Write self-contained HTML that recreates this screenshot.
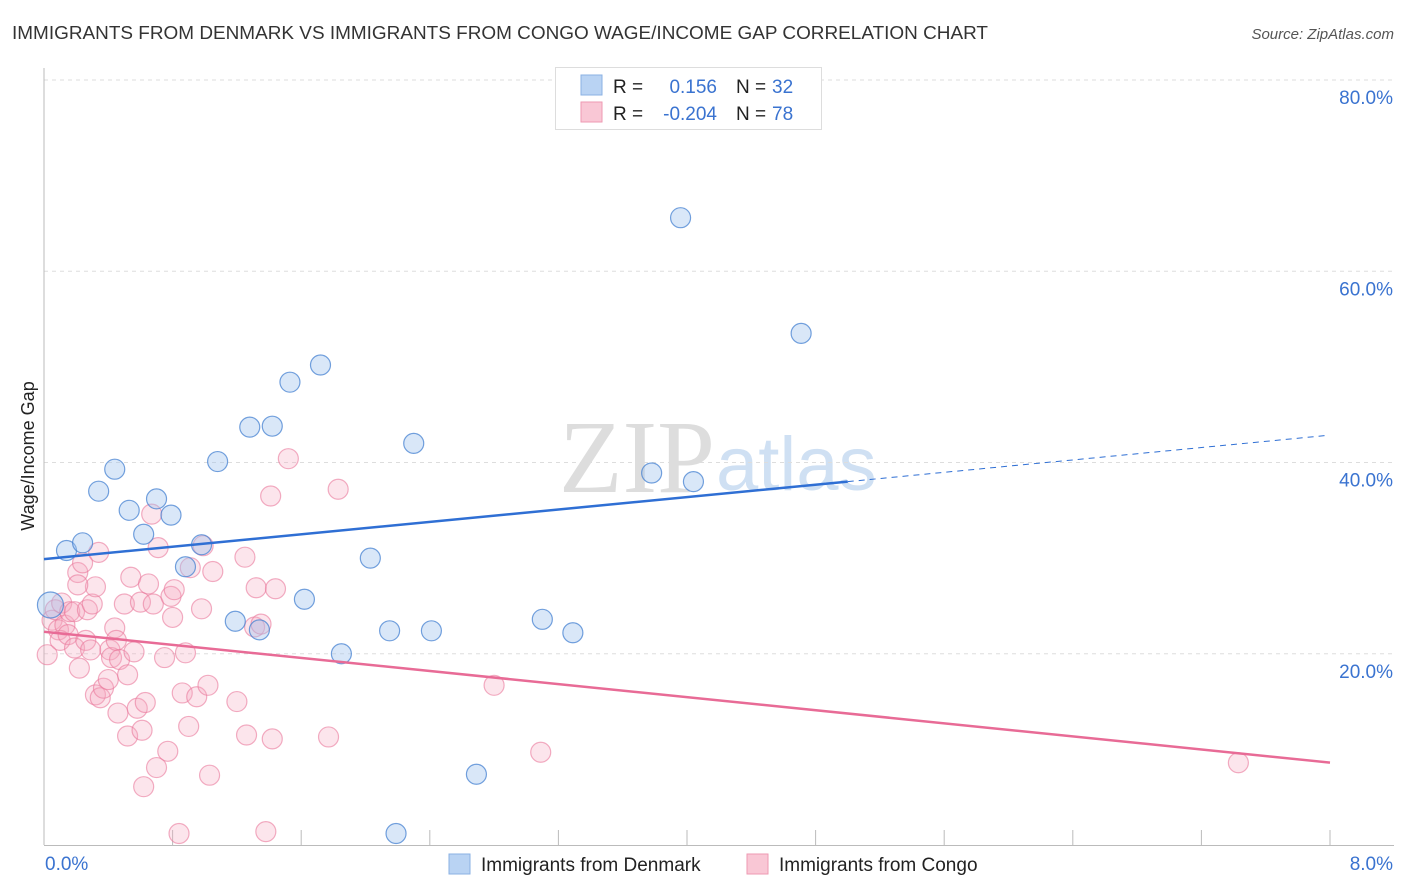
<!DOCTYPE html>
<html><head><meta charset="utf-8"><style>
body{margin:0;background:#fff;font-family:"Liberation Sans",sans-serif;}
svg{display:block}
</style></head><body>
<svg id="chart" width="1406" height="892" xmlns="http://www.w3.org/2000/svg">
<text x="12" y="39" font-size="18" fill="#333" textLength="976" lengthAdjust="spacingAndGlyphs">IMMIGRANTS FROM DENMARK VS IMMIGRANTS FROM CONGO WAGE/INCOME GAP CORRELATION CHART</text>
<text x="1394" y="39" font-size="15" fill="#555" font-style="italic" text-anchor="end">Source: ZipAtlas.com</text>
<text x="715" y="492" font-size="104" fill="#ddd" font-family="Liberation Serif,serif" text-anchor="end">ZIP</text>
<text x="716" y="490" font-size="76" fill="#cfe0f3">atlas</text>
<g id="grid"></g><g id="axes"></g><g id="marks"></g>
<text transform="translate(34,456) rotate(-90)" font-size="18" fill="#222" text-anchor="middle">Wage/Income Gap</text>
<g>
<rect x="555.5" y="67.5" width="266" height="62" fill="#fff" stroke="#ddd"/>
<rect x="581" y="75" width="21" height="20" fill="#b9d3f3" stroke="#8ab0e3"/>
<rect x="581" y="102" width="21" height="20" fill="#f9c7d5" stroke="#ee9ab2"/>
<text x="613" y="93" font-size="19" fill="#222">R = </text><text x="717" y="93" font-size="19" fill="#3a73d0" text-anchor="end">0.156</text>
<text x="736" y="93" font-size="19" fill="#222">N = </text><text x="772" y="93" font-size="19" fill="#3a73d0">32</text>
<text x="613" y="120" font-size="19" fill="#222">R = </text><text x="717" y="120" font-size="19" fill="#3a73d0" text-anchor="end">-0.204</text>
<text x="736" y="120" font-size="19" fill="#222">N = </text><text x="772" y="120" font-size="19" fill="#3a73d0">78</text>
</g>
<g>
<rect x="449" y="854" width="21" height="20" fill="#b9d3f3" stroke="#8ab0e3"/>
<text x="481" y="871" font-size="19" fill="#222">Immigrants from Denmark</text>
<rect x="747" y="854" width="21" height="20" fill="#f9c7d5" stroke="#ee9ab2"/>
<text x="779" y="871" font-size="19" fill="#222">Immigrants from Congo</text>
</g>
</svg>
<script>
const yTicks=[20,40,60,80];
const yTickLabels=["20.0%","40.0%","60.0%","80.0%"];
const xTickLabels=["0.0%","8.0%"];
const blueX=[0.04,0.14,0.24,0.44,0.34,0.53,0.70,0.79,0.62,0.98,0.88,1.08,1.28,1.42,1.53,1.72,1.19,1.34,1.62,1.85,2.03,2.15,2.30,2.41,2.19,2.69,3.10,3.29,3.78,4.04,3.96,4.71];
const blueY=[25.1,30.8,31.6,39.3,37.0,35.0,36.2,34.5,32.5,31.4,29.1,40.1,43.7,43.8,48.4,50.2,23.4,22.5,25.7,20.0,30.0,22.4,42.0,22.4,1.2,7.4,23.6,22.2,38.9,38.0,65.6,53.5];
const pinkX=[0.02,0.05,0.07,0.09,0.11,0.13,0.16,0.10,0.15,0.19,0.22,0.19,0.21,0.24,0.26,0.27,0.30,0.32,0.34,0.29,0.32,0.35,0.37,0.40,0.41,0.42,0.44,0.45,0.46,0.47,0.50,0.52,0.52,0.54,0.56,0.58,0.60,0.61,0.62,0.63,0.65,0.67,0.68,0.70,0.71,0.75,0.77,0.79,0.80,0.81,0.84,0.86,0.88,0.90,0.91,0.95,0.98,1.02,1.03,1.05,0.99,1.20,1.25,1.26,1.31,1.32,1.35,1.38,1.42,1.41,1.44,1.52,1.77,1.83,2.80,3.09,7.43,0.21];
const pinkY=[19.9,23.5,24.6,22.5,25.3,23.0,24.4,21.4,22.0,24.4,18.5,20.6,28.5,29.5,21.4,24.6,25.2,27.0,30.6,20.4,15.7,15.4,16.4,17.3,20.4,19.6,22.7,21.4,13.8,19.4,25.2,11.4,17.8,28.0,20.2,14.3,25.4,12.0,6.1,14.9,27.3,34.6,25.2,8.1,31.1,19.6,9.8,26.0,23.8,26.7,1.2,15.9,20.1,12.4,29.0,15.5,24.7,16.7,7.3,28.6,31.3,15.0,30.1,11.5,22.8,26.9,23.1,1.4,11.1,36.5,26.8,40.4,11.3,37.2,16.7,9.7,8.6,27.2];
const blueTrend=[29.9,1.62];
const pinkTrend=[22.3,-1.71];
const NS="http://www.w3.org/2000/svg";
const xs=v=>44+v/8*1286, ys=v=>845-v*9.5625;
function mk(t,a,p){const e=document.createElementNS(NS,t);for(const k in a)e.setAttribute(k,a[k]);p.appendChild(e);return e;}
const grid=document.getElementById('grid'),axes=document.getElementById('axes'),marks=document.getElementById('marks');
yTicks.forEach((t,i)=>{
 const l=mk('line',{x1:44,x2:1394,y1:ys(t),y2:ys(t),stroke:'#ddd','stroke-dasharray':'4,4'},grid);
 
 
 const tx=mk('text',{x:1393,y:ys(t)+24,'font-size':19,fill:'#3a73d0','text-anchor':'end'},axes);tx.textContent=yTickLabels[i];
 
 
});
mk('line',{x1:44,x2:44,y1:68,y2:845,stroke:'#bbb'},axes);
mk('line',{x1:44,x2:1394,y1:845.5,y2:845.5,stroke:'#bbb'},axes);
for(let i=1;i<=10;i++){const x=xs(i*0.8);mk('line',{x1:x,x2:x,y1:830,y2:845,stroke:'#bbb'},axes);}
[[xs(0)+1,'start'],[1393,'end']].forEach((p,i)=>{const t=mk('text',{x:p[0],y:870,'font-size':19,fill:'#3a73d0','text-anchor':p[1]},axes);t.textContent=xTickLabels[i];
 
 });
function pts(X,Y,fill,stroke,name){X.forEach((x,i)=>{const r=(i===0&&name==='point-denmark')?13:10;
 const c=mk('circle',{cx:xs(x),cy:ys(Y[i]),r:r,fill:fill,stroke:stroke,'stroke-width':1.2},marks);
 
 });}
pts(pinkX,pinkY,'rgba(246,168,192,0.3)','rgba(234,120,155,0.6)','point-congo');
pts(blueX,blueY,'rgba(160,195,238,0.4)','rgba(70,130,210,0.75)','point-denmark');
const b1=mk('line',{x1:xs(0),y1:ys(blueTrend[0]),x2:xs(5),y2:ys(blueTrend[0]+blueTrend[1]*5),stroke:'#2f6fd4','stroke-width':2.5},marks);


const b2=mk('line',{x1:xs(5),y1:ys(blueTrend[0]+blueTrend[1]*5),x2:xs(7.97),y2:ys(blueTrend[0]+blueTrend[1]*7.97),stroke:'#2f6fd4','stroke-width':1,'stroke-dasharray':'6,5'},marks);


const p1=mk('line',{x1:xs(0),y1:ys(pinkTrend[0]),x2:xs(8),y2:ys(pinkTrend[0]+pinkTrend[1]*8),stroke:'#e86b96','stroke-width':2.5},marks);


</script>
</body></html>
